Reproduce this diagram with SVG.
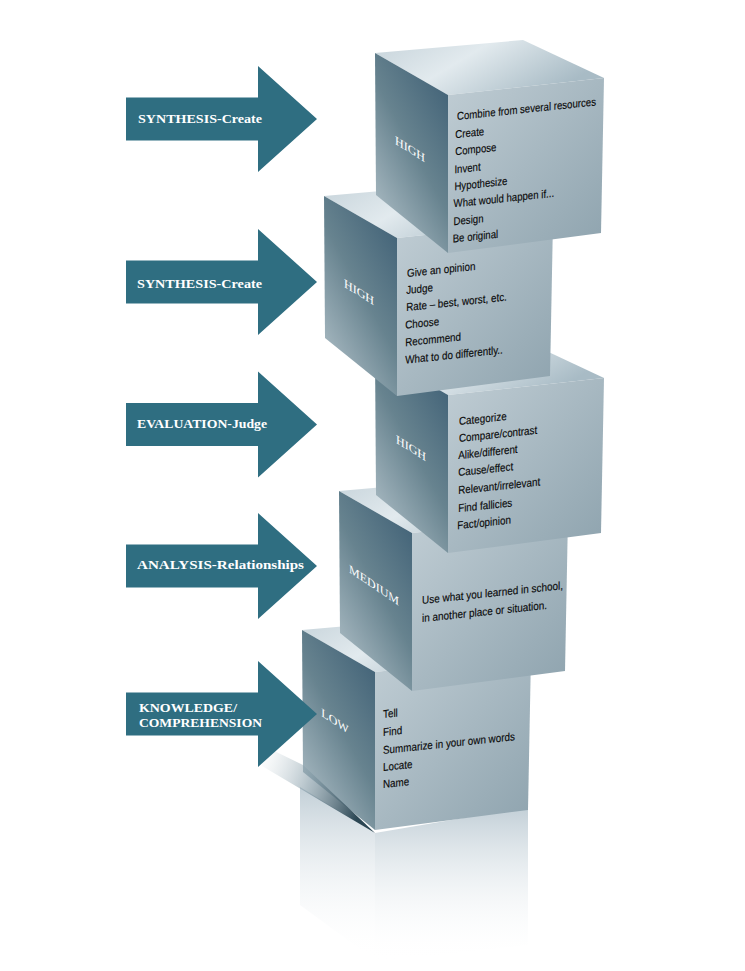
<svg xmlns="http://www.w3.org/2000/svg" width="745" height="971" viewBox="0 0 745 971">
<style>
.arrow{fill:#2f6e81}
.al{font-family:"Liberation Serif","Times New Roman",serif;font-weight:bold;font-size:12.5px;fill:#ffffff}
.lvl{font-family:"Liberation Serif","Times New Roman",serif;font-size:12px;fill:#ffffff;text-anchor:middle}
.li{font-family:"Liberation Sans",Arial,sans-serif;font-size:11.2px;fill:#0a0a0a;stroke:#0a0a0a;stroke-width:0.15px}
</style>
<defs>
 <linearGradient id="gLeft" x1="0.75" y1="0.05" x2="0.15" y2="0.95">
  <stop offset="0" stop-color="#46667a"/>
  <stop offset="0.45" stop-color="#67838f"/>
  <stop offset="1" stop-color="#aebec6"/>
 </linearGradient>
 <linearGradient id="gFront" x1="0" y1="0" x2="1" y2="1">
  <stop offset="0" stop-color="#c0cdd4"/>
  <stop offset="1" stop-color="#8ea3ae"/>
 </linearGradient>
 <linearGradient id="gTop" x1="0" y1="0" x2="1" y2="0.4">
  <stop offset="0" stop-color="#c6d3da"/>
  <stop offset="0.45" stop-color="#e2eaee"/>
  <stop offset="1" stop-color="#a8bbc5"/>
 </linearGradient>
 <linearGradient id="gRefl" x1="0" y1="0" x2="0" y2="1">
  <stop offset="0" stop-color="#c2cfd7"/>
  <stop offset="1" stop-color="#ffffff" stop-opacity="0"/>
 </linearGradient>
 <linearGradient id="gShadow" x1="0" y1="0" x2="1" y2="0.3">
  <stop offset="0" stop-color="#c9d5db" stop-opacity="0"/>
  <stop offset="0.5" stop-color="#7f97a3" stop-opacity="0.6"/>
  <stop offset="1" stop-color="#2b4653"/>
 </linearGradient>
 <g id="cube">
  <polygon points="-73,-42 75,-55 156,-17 0,0" fill="url(#gTop)"/>
  <polygon points="-73,-42 0,0 0,158 -72,100" fill="url(#gLeft)"/>
  <polygon points="0,0 156,-17 153,138 0,158" fill="url(#gFront)"/>
 </g>
 <path id="arrowShape" d="M126,-21.5H258V-53L317,0L258,53V21.5H126Z"/>
</defs>

<g id="reflection">
 <polygon points="300,787 375,833 375,960 300,905" fill="url(#gRefl)"/>
 <polygon points="375,833 528,807 528,945 375,962" fill="url(#gRefl)"/>
</g>

<g id="cube-low">
 <use href="#cube" transform="translate(375,672)"/>
 <text class="lvl" transform="translate(335,721) skewY(34)" y="4">LOW</text>
 <g transform="translate(383,718) skewY(-6) scale(0.88,1)">
  <text class="li"><tspan x="0" y="0">Tell</tspan><tspan x="0" y="18">Find</tspan><tspan x="0" y="36">Summarize in your own words</tspan><tspan x="0" y="53">Locate</tspan><tspan x="0" y="70">Name</tspan></text>
 </g>
</g>
<polygon id="shadow" points="262,745 303,765 375,833 262,766" fill="url(#gShadow)"/>

<g id="cube-medium">
 <use href="#cube" transform="translate(412,533)"/>
 <text class="lvl" transform="translate(374,585) skewY(34)" y="4">MEDIUM</text>
 <g transform="translate(422,604) skewY(-6) scale(0.89,1)">
  <text class="li"><tspan x="0" y="0">Use what you learned in school,</tspan><tspan x="0" y="18">in another place or situation.</tspan></text>
 </g>
</g>

<g id="cube-high-3">
 <use href="#cube" transform="translate(448,395)"/>
 <text class="lvl" transform="translate(411,448) skewY(32)" y="4">HIGH</text>
 <g transform="translate(459,425) skewY(-6) scale(0.88,1)">
  <text class="li"><tspan x="0" y="0">Categorize</tspan><tspan x="0" y="17">Compare/contrast</tspan><tspan x="-1" y="34">Alike/different</tspan><tspan x="-1" y="51">Cause/effect</tspan><tspan x="-1" y="69">Relevant/irrelevant</tspan><tspan x="-1" y="87">Find fallicies</tspan><tspan x="-2" y="104">Fact/opinion</tspan></text>
 </g>
</g>

<g id="cube-high-2">
 <use href="#cube" transform="translate(397,238)"/>
 <text class="lvl" transform="translate(359,292) skewY(32)" y="4">HIGH</text>
 <g transform="translate(407,277) skewY(-6) scale(0.88,1)">
  <text class="li"><tspan x="0" y="0">Give an opinion</tspan><tspan x="-1" y="17">Judge</tspan><tspan x="-1" y="34">Rate – best, worst, etc.</tspan><tspan x="-2" y="51.5">Choose</tspan><tspan x="-2" y="69">Recommend</tspan><tspan x="-2" y="86.5">What to do differently..</tspan></text>
 </g>
</g>

<g id="cube-high-1">
 <use href="#cube" transform="translate(448,95)"/>
 <text class="lvl" transform="translate(410,149) skewY(32)" y="4">HIGH</text>
 <g transform="translate(457,120) skewY(-6) scale(0.86,1)">
  <text class="li"><tspan x="0" y="0">Combine from several resources</tspan><tspan x="-2" y="18">Create</tspan><tspan x="-2" y="35">Compose</tspan><tspan x="-3" y="53">Invent</tspan><tspan x="-3" y="70">Hypothesize</tspan><tspan x="-4" y="87">What would happen if...</tspan><tspan x="-4" y="105">Design</tspan><tspan x="-5" y="122">Be original</tspan></text>
 </g>
</g>

<g id="arrow-synthesis-1">
 <use href="#arrowShape" class="arrow" transform="translate(0,119)"/>
 <text class="al" x="138" y="122.7" textLength="124" lengthAdjust="spacingAndGlyphs">SYNTHESIS-Create</text>
</g>
<g id="arrow-synthesis-2">
 <use href="#arrowShape" class="arrow" transform="translate(0,282)"/>
 <text class="al" x="137" y="287.5" textLength="125" lengthAdjust="spacingAndGlyphs">SYNTHESIS-Create</text>
</g>
<g id="arrow-evaluation">
 <use href="#arrowShape" class="arrow" transform="translate(0,424.5)"/>
 <text class="al" x="137" y="428" textLength="130" lengthAdjust="spacingAndGlyphs">EVALUATION-Judge</text>
</g>
<g id="arrow-analysis">
 <use href="#arrowShape" class="arrow" transform="translate(0,566)"/>
 <text class="al" x="137" y="568.5" textLength="167" lengthAdjust="spacingAndGlyphs">ANALYSIS-Relationships</text>
</g>
<g id="arrow-knowledge">
 <use href="#arrowShape" class="arrow" transform="translate(0,714)"/>
 <text class="al" x="139" y="711.5" textLength="98" lengthAdjust="spacingAndGlyphs">KNOWLEDGE/</text>
 <text class="al" x="139" y="726.5" textLength="123" lengthAdjust="spacingAndGlyphs">COMPREHENSION</text>
</g>
</svg>
